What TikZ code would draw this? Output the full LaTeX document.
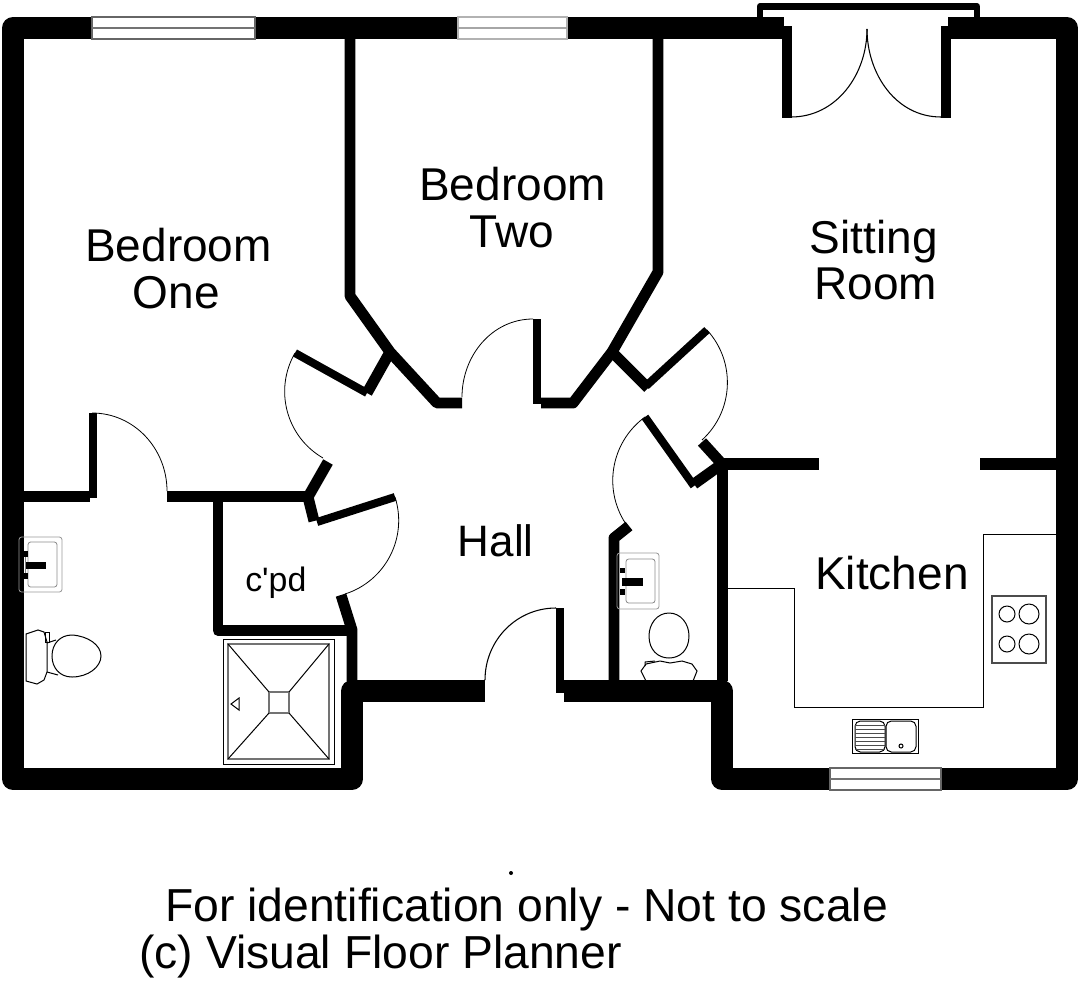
\documentclass[tikz,border=0pt]{standalone}
\usepackage{fontspec}
\setmainfont{Liberation Sans}
\newfontfamily\plainsans{Liberation Sans}
\begin{document}
\begin{tikzpicture}[x=0.75pt,y=-0.75pt,
  wall/.style={line width=16.5pt,line join=round,black},
  thinwall/.style={line width=8.2pt,line join=round,black},
  leaf/.style={line width=6pt,black},
  doorarc/.style={line width=0.6pt,black},
  fix/.style={line width=0.75pt,black},
  fixgray/.style={line width=0.8pt,black!55},
  windowbox/.style={draw=black!60,fill=white,line width=1pt},
  lbl/.style={anchor=base west,inner sep=0pt,font=\fontsize{34.5pt}{40pt}\selectfont},
  foot/.style={anchor=base west,inner sep=0pt,font=\fontsize{34.7pt}{40pt}\selectfont}]
\useasboundingbox[fill=white] (0,0) rectangle (1080,985);
% outer walls
\draw[wall] (784,28) -- (13,28) -- (13,779) -- (352,779) -- (352,691) -- (485,691);
\draw[wall] (948,28) -- (1067,28) -- (1067,779) -- (722,779) -- (722,691) -- (563.5,691);
% balcony frame and french door jambs
\draw[line width=5pt,black,line join=round] (760,17) -- (760,6.5) -- (977,6.5) -- (977,17);
\draw[line width=7pt,black] (787,26) -- (787,118);
\draw[line width=7.5pt,black] (946,26) -- (946,118);
% partitions
\draw[thinwall] (350,39) -- (350,296) -- (390,352) -- (437,403) -- (462,403);
\draw[thinwall] (658,39) -- (658,272) -- (612,352) -- (573,403) -- (541,403);
\draw[thinwall] (24,496.5) -- (90,496.5);
\draw[thinwall] (167,496.5) -- (308,496.5);
\draw[thinwall] (328,462) -- (308,497) -- (314,521);
\draw[thinwall] (390,352) -- (367,393);
\draw[thinwall] (612,352) -- (648,388);
\draw[thinwall] (218,497) -- (218,630.5) -- (352,630.5);
\draw[thinwall] (341,595) -- (352,630) -- (352,681);
\draw[thinwall] (702,442) -- (722,464);
\draw[line width=8.8pt,black] (722,464) -- (819,464);
\draw[line width=8.8pt,black] (980,464) -- (1057,464);
\draw[line width=8.4pt,black] (722.5,458) -- (722.5,681);
\draw[thinwall] (694,484) -- (722,464);
\draw[thinwall] (629,526) -- (614,538) -- (614,683);
% door leaves
\draw[leaf] (92.5,413) -- (92.5,498);
\draw[leaf] (295,353) -- (367,393);
\draw[leaf] (317,522) -- (395,497);
\draw[leaf] (537,319) -- (537,404);
\draw[leaf] (707,330) -- (646,386);
\draw[leaf] (645,417) -- (694,486);
\draw[leaf] (560,608) -- (560,693);
% door swings
\draw[doorarc] (92,413) to[out=0,in=90] (167,491);
\draw[doorarc] (295,353) to[bend right=45] (323,458);
\draw[doorarc] (395,497) to[bend left=45] (345,594);
\draw[doorarc] (533,319) to[out=180,in=90] (462,397);
\draw[doorarc] (707,330) to[bend left=45] (702,440);
\draw[doorarc] (645,417) to[bend right=45] (628,527);
\draw[doorarc,line width=0.8pt] (556,608) to[out=180,in=90] (485,680);
\draw[doorarc,line width=0.8pt] (791,117) to[out=0,in=-90] (867,29);
\draw[doorarc,line width=0.8pt] (941,117) to[out=180,in=-90] (867,29);
% windows
\draw[windowbox] (92,17) rectangle (255,39);
\draw[fixgray,line width=1pt] (92,28) -- (255,28);
\draw[draw=black!30,fill=white,line width=0.8pt] (458,17) rectangle (567,39);
\draw[draw=black!35,line width=0.8pt] (458,28) -- (567,28);
\draw[windowbox] (830,768) rectangle (941,790);
\draw[fixgray,line width=1pt] (830,779) -- (941,779);
% shower
\draw[fix] (223,639) rectangle (334,764);
\draw[fixgray,line width=1.1pt] (228,644) rectangle (329,759);
\draw[fixgray,line width=1.1pt] (269,692) rectangle (289,713);
\draw[fix] (228,644) -- (269,692) (329,644) -- (289,692) (228,759) -- (269,713) (329,759) -- (289,713);
\draw[fix] (231,704) -- (239,698) -- (239,710) -- cycle;
% en-suite basin
\draw[line width=0.6pt,black!40,rounded corners=2pt] (19,537) rectangle (62,592);
\draw[line width=0.6pt,black!45,rounded corners=2pt] (28,542) rectangle (57,587);
\fill[black] (25,562) rectangle (46,569);
\fill[black] (22,551) rectangle (28,557);
\fill[black] (22,573) rectangle (28,579);
\draw[line width=0.5pt,black!50] (25,557) -- (25,573);
% en-suite WC
\draw[fix] (26,634) -- (38,630) -- (44,632) -- (47,642) -- (47,672) -- (44,680) -- (37,684) -- (26,681) -- cycle;
\draw[fix] (45,632) rectangle (49,642);
\draw[fix] (47,643) -- (56,640);
\draw[fix] (47,672) -- (58,675);
\draw[fix] (72,635) .. controls (88,636) and (101,645) .. (101,656) .. controls (101,667) and (88,677) .. (72,677) .. controls (60,677) and (52,668) .. (52,656) .. controls (52,644) and (60,635) .. (72,635) -- cycle;
% cloakroom basin
\draw[line width=0.6pt,black!40,rounded corners=2pt] (617,553) rectangle (659,609);
\draw[line width=0.6pt,black!45,rounded corners=2pt] (626,559) rectangle (655,603);
\fill[black] (622,578) rectangle (643,586);
\fill[black] (620,568) rectangle (625,573);
\fill[black] (620,589) rectangle (625,595);
% cloakroom WC
\draw[fix] (669,613) .. controls (681,613) and (689,624) .. (689,636) .. controls (689,650) and (680,658) .. (669,658) .. controls (658,658) and (649,650) .. (649,636) .. controls (649,624) and (657,613) .. (669,613) -- cycle;
\draw[fix] (646,681) -- (641,671) -- (646,664) -- (660,661) -- (670,663) -- (682,661) -- (692,664) -- (697,671) -- (693,681);
\draw[fix] (645,666) -- (645,662) -- (655,661);
% kitchen units
\draw[fix] (728,588) -- (794,588) -- (794,707) -- (983,707) -- (983,534) -- (1056,534);
\draw[black!70,line width=0.9pt] (992,596) rectangle (1046,663);
\draw[fix] (1007,614) circle (8);
\draw[fix] (1029,614) circle (10);
\draw[fix] (1007,644) circle (8);
\draw[fix] (1029,644) circle (10);
% kitchen sink
\draw[fix] (852,719) rectangle (918,753);
\draw[fix,rounded corners=4pt] (855,721) rectangle (885,752);
\draw[fix,rounded corners=4pt] (886,721) rectangle (916,752);
\foreach \yy in {725,729,733,737,741,745,749}{\draw[line width=0.5pt,black!70] (855,\yy) -- (885,\yy);}
\draw[fix] (901,746) circle (2);
% labels
\node[lbl] (bedone) at (85,261.5) {Bedroom};
\node[lbl] (bedonex) at (132.5,308) {One};
\node[lbl] (bedtwo) at (419,200) {Bedroom};
\node[lbl] (bedtwox) at (469.5,247) {Two};
\node[lbl] (sit) at (809.5,253) {Sitting};
\node[lbl] (room) at (814,299.5) {Room};
\node[lbl,font=\fontsize{33pt}{40pt}\selectfont] (hall) at (457.5,556) {Hall};
\node[lbl] (kitchen) at (815,589) {Kitchen};
\node[lbl,font=\fontsize{25.4pt}{30pt}\plainsans\selectfont] (cpd) at (245,591) {c'pd};
\fill[black] (511,873) circle (2);
\node[foot] (noscale) at (165,921) {For identification only - Not to scale};
\node[foot] (planner) at (139,968) {(c) Visual Floor Planner};
\end{tikzpicture}
\end{document}
